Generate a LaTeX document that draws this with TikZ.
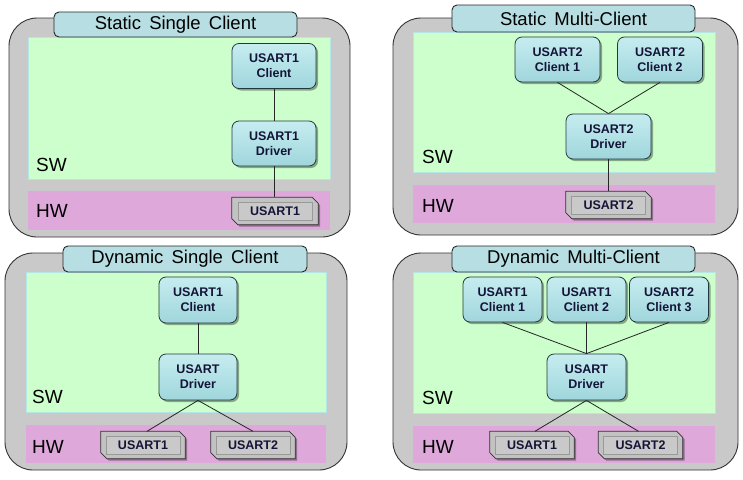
\documentclass[tikz,border=0pt]{standalone}
\usepackage{fontspec}
\setmainfont{Liberation Sans}
\usetikzlibrary{shadows}
\definecolor{panelgray}{HTML}{C9C9C9}
\definecolor{tabblue}{HTML}{B7DEE2}
\definecolor{swgreen}{HTML}{CCFFCC}
\definecolor{swedge}{HTML}{B4E6E6}
\definecolor{hwpink}{HTML}{DFA8DB}
\definecolor{boxtop}{HTML}{C6EDF0}
\definecolor{boxbot}{HTML}{9FD6DC}
\definecolor{boxedge}{HTML}{23383E}
\definecolor{textnavy}{HTML}{141438}
\definecolor{chipgray}{HTML}{C2C2C2}
\definecolor{chipinner}{HTML}{C9C9C9}
\newcommand\chipoutline[1]{%
  \draw[chipframe] (#1.north west) -- ([xshift=-6pt]#1.north east)
    -- ([yshift=-6pt]#1.north east) -- (#1.south east)
    -- ([xshift=6pt]#1.south west) -- ([yshift=6pt]#1.south west) -- cycle;}
\begin{document}
\begin{tikzpicture}[x=1pt,y=-1pt,
  panel/.style={draw=black!80,fill=panelgray,rounded corners=28pt,line width=0.9pt},
  swzone/.style={fill=swgreen,draw=swedge,line width=0.7pt},
  hwzone/.style={fill=hwpink,draw=none},
  tab/.style={draw=black!85,fill=tabblue,rounded corners=5pt,line width=0.9pt,
    inner sep=0pt,font=\fontsize{18.5}{22}\selectfont},
  zonelabel/.style={font=\fontsize{19}{22}\selectfont,anchor=base west,inner sep=0pt},
  swbox/.style={draw=boxedge,rounded corners=7pt,line width=0.8pt,
    top color=boxtop,bottom color=boxbot,minimum height=45pt,inner sep=0pt,
    align=center,font=\fontsize{12.5}{15}\selectfont\bfseries,text=textnavy,
    drop shadow={shadow xshift=2pt,shadow yshift=-2pt,opacity=.35,fill=black}},
  chip/.style={rectangle,draw=none,minimum width=84pt,minimum height=27pt,inner sep=0pt},
  chipframe/.style={draw=black!80,fill=chipgray,line width=0.8pt,line join=round,
    drop shadow={shadow xshift=2pt,shadow yshift=-2pt,opacity=.35,fill=black}},
  chiplabel/.style={draw=black!40,fill=chipinner,line width=0.6pt,
    minimum width=74pt,minimum height=18pt,inner sep=0pt,
    font=\fontsize{12.5}{15}\selectfont\bfseries,text=textnavy},
  wire/.style={draw=black!85,line width=0.8pt}
]
\useasboundingbox (0,0) rectangle (743,479);

% ---------------- Top-left: Static Single Client
\draw[panel] (9,18) rectangle (350,237);
\draw[swzone] (28,37) rectangle (330,179);
\fill[hwzone] (28,191) rectangle (330,230);
\node[tab,minimum width=243pt,minimum height=25pt] (t1) at (175.5,24.5) {Static\, Single\, Client};
\node[zonelabel] (sw1) at (36,171) {SW};
\node[zonelabel] (hw1) at (36,217) {HW};
\node[swbox,minimum width=84pt] (a1) at (274,66) {USART1\\Client};
\node[swbox,minimum width=84pt] (a2) at (274,143.5) {USART1\\Driver};
\node[chip,minimum width=86pt] (a3) at (275,211) {};
\chipoutline{a3}
\node[chiplabel] (a3l) at (a3.center) {USART1};
\draw[wire] (a1.south) -- (a2.north);
\draw[wire] (a2.south) -- (a2.south |- a3.north);

% ---------------- Top-right: Static Multi-Client
\draw[panel] (393,18) rectangle (738,235);
\draw[swzone] (413,32) rectangle (715,172);
\fill[hwzone] (413,185) rectangle (715,223);
\node[tab,minimum width=243pt,minimum height=27pt] (t2) at (573.5,18.5) {Static\, Multi-Client};
\node[zonelabel] (sw2) at (422,163) {SW};
\node[zonelabel] (hw2) at (422,212) {HW};
\node[swbox,minimum width=85pt] (b1) at (557.5,59.5) {USART2\\Client 1};
\node[swbox,minimum width=85pt] (b2) at (660,59.5) {USART2\\Client 2};
\node[swbox,minimum width=85pt] (b3) at (608.5,136.5) {USART2\\Driver};
\node[chip,minimum width=85pt] (b4) at (608.5,205) {};
\chipoutline{b4}
\node[chiplabel] (b4l) at (b4.center) {USART2};
\draw[wire] (b1.south) -- (b3.north);
\draw[wire] (b2.south) -- (b3.north);
\draw[wire] (b3.south) -- (b4.north);

% ---------------- Bottom-left: Dynamic Single Client
\draw[panel] (5,253) rectangle (347,470);
\draw[swzone] (26,272) rectangle (326,412);
\fill[hwzone] (26,425) rectangle (326,463);
\node[tab,minimum width=244pt,minimum height=26pt] (t3) at (185,259) {Dynamic\, Single\, Client};
\node[zonelabel] (sw3) at (32,403) {SW};
\node[zonelabel] (hw3) at (32,453) {HW};
\node[swbox,minimum width=78pt,minimum height=46pt] (c1) at (198,300) {USART1\\Client};
\node[swbox,minimum width=78pt,minimum height=46pt] (c2) at (198,377) {USART\\Driver};
\node[chip] (c3) at (143,445) {};
\chipoutline{c3}
\node[chiplabel] (c3l) at (c3.center) {USART1};
\node[chip] (c4) at (253,445) {};
\chipoutline{c4}
\node[chiplabel] (c4l) at (c4.center) {USART2};
\draw[wire] (c1.south) -- (c2.north);
\draw[wire] (c2.south) -- ([xshift=4pt]c3.north);
\draw[wire] (c2.south) -- (c4.north);

% ---------------- Bottom-right: Dynamic Multi-Client
\draw[panel] (393,253) rectangle (738,470);
\draw[swzone] (413,272) rectangle (715,413);
\fill[hwzone] (413,426) rectangle (715,463);
\node[tab,minimum width=243pt,minimum height=26pt] (t4) at (573.5,259) {Dynamic\, Multi-Client};
\node[zonelabel] (sw4) at (422,404) {SW};
\node[zonelabel] (hw4) at (422,453) {HW};
\node[swbox,minimum width=79pt] (d1) at (502.5,299.5) {USART1\\Client 1};
\node[swbox,minimum width=79pt] (d2) at (586.5,299.5) {USART1\\Client 2};
\node[swbox,minimum width=79pt] (d3) at (669,299.5) {USART2\\Client 3};
\node[swbox,minimum width=79pt,minimum height=46pt] (d4) at (586.5,377) {USART\\Driver};
\node[chip] (d5) at (532,445) {};
\chipoutline{d5}
\node[chiplabel] (d5l) at (d5.center) {USART1};
\node[chip] (d6) at (640.5,445) {};
\chipoutline{d6}
\node[chiplabel] (d6l) at (d6.center) {USART2};
\draw[wire] (d1.south) -- (d4.north);
\draw[wire] (d2.south) -- (d4.north);
\draw[wire] (d3.south) -- (d4.north);
\draw[wire] (d4.south) -- ([xshift=3pt]d5.north);
\draw[wire] (d4.south) -- ([xshift=-2pt]d6.north);
\end{tikzpicture}
\end{document}
